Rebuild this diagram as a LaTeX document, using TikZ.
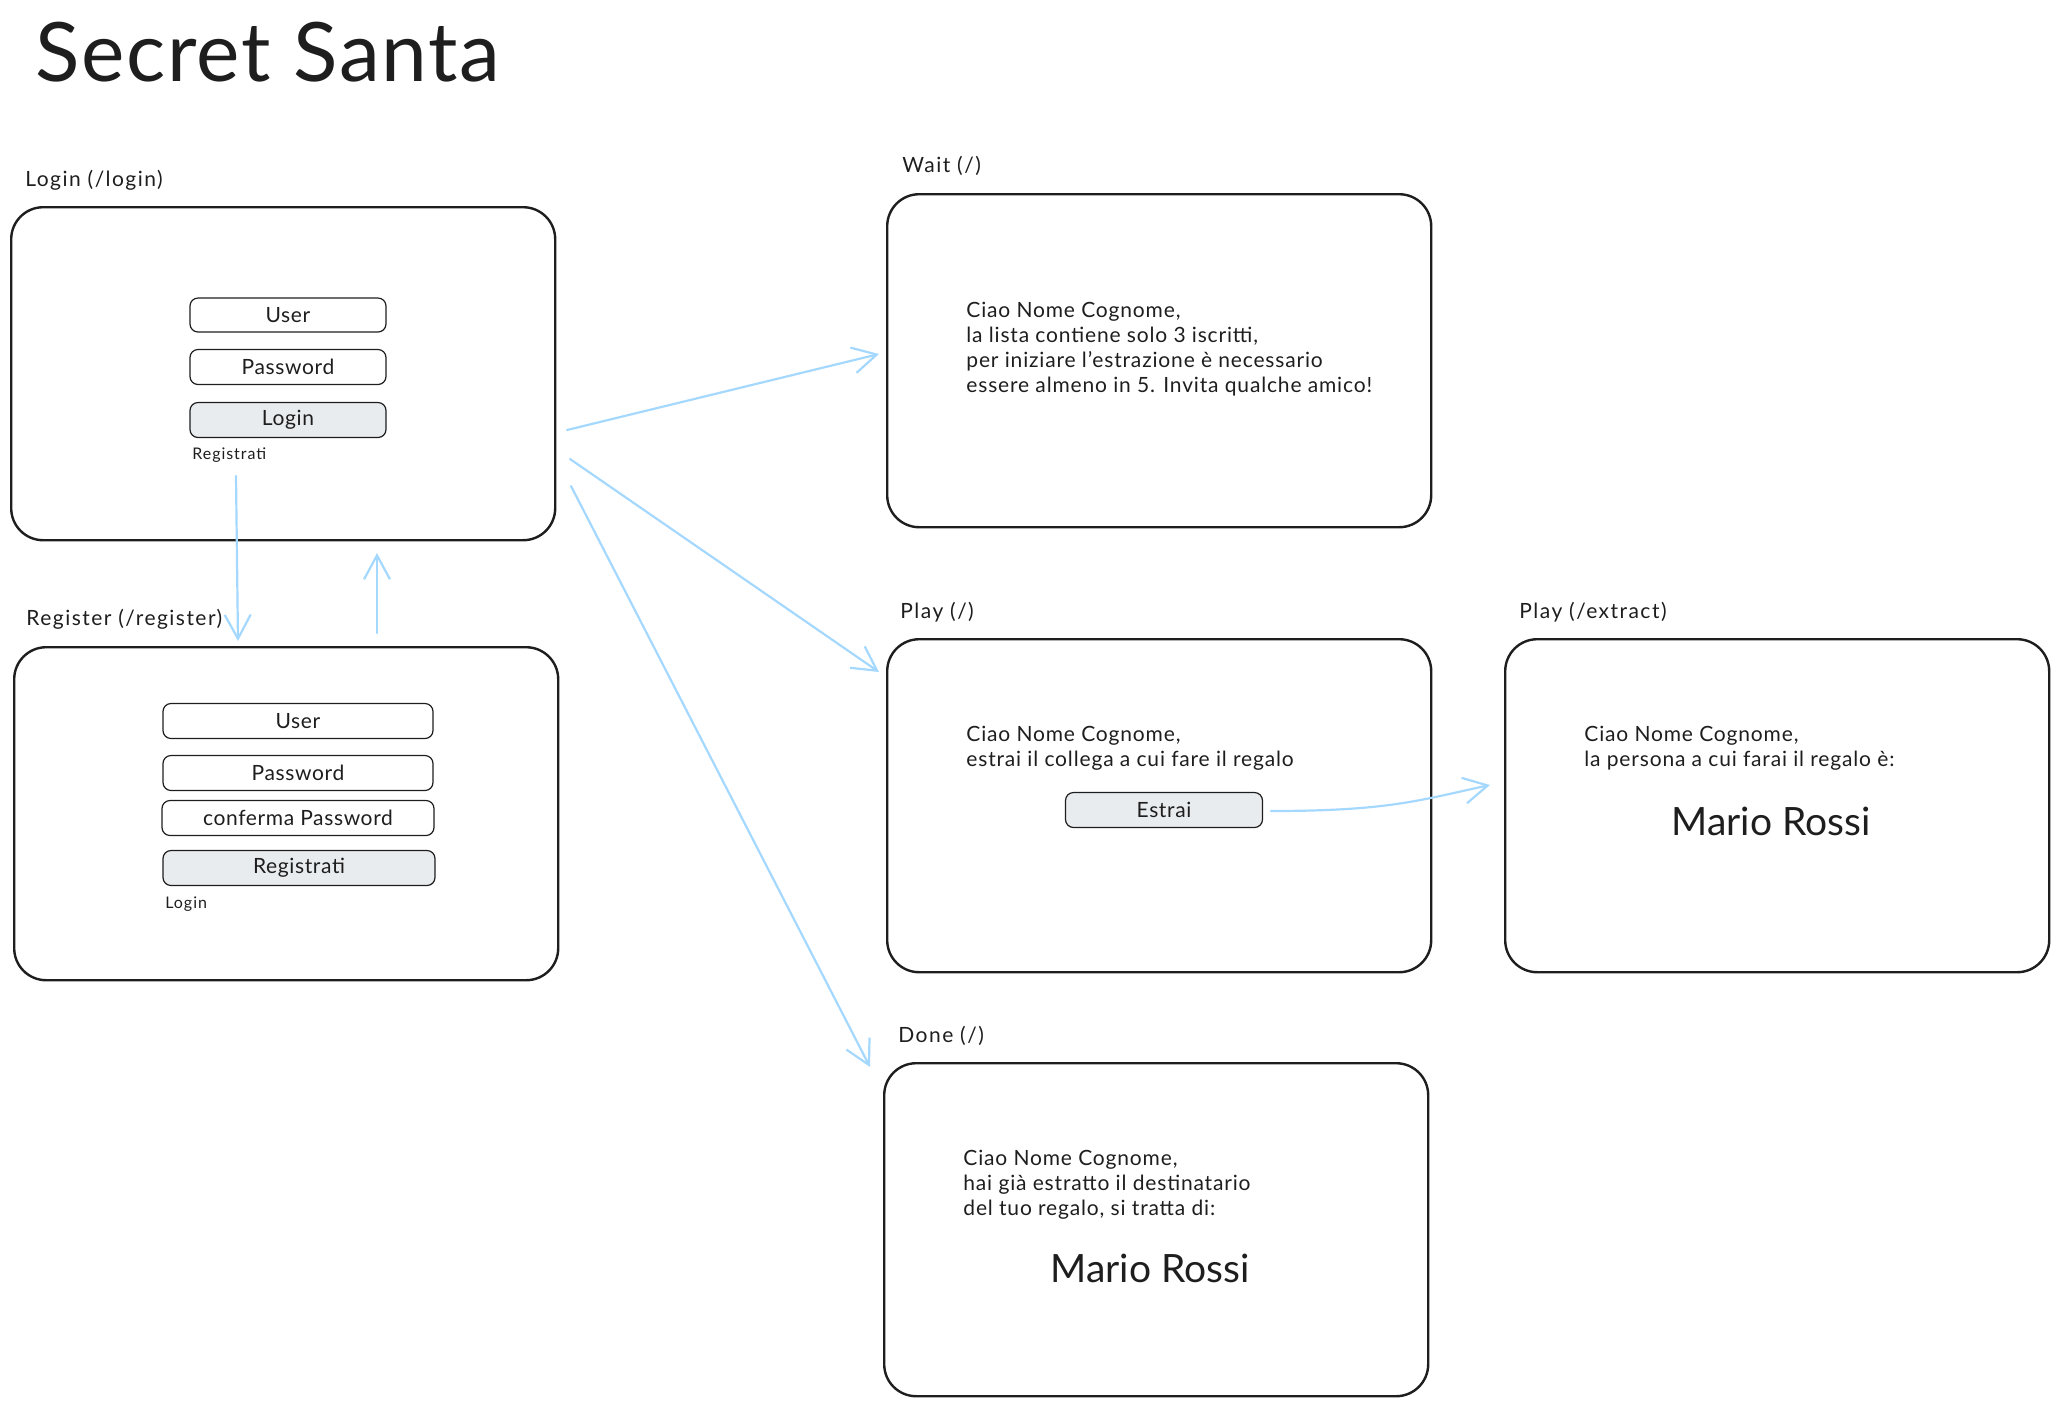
\documentclass[tikz,border=0pt]{standalone}
\usepackage{fontspec}
\setmainfont{Lato}
\usetikzlibrary{arrows.meta}
\definecolor{ink}{HTML}{1E1E1E}
\definecolor{arrowblue}{HTML}{A5D8FF}
\definecolor{btnfill}{HTML}{E9ECEF}
\begin{document}
\begin{tikzpicture}[x=0.5pt,y=-0.5pt,
  frame/.style={draw=ink, line width=1.2pt, rounded corners=16pt, anchor=north west,
    minimum width=272pt, minimum height=166.5pt, inner sep=0pt},
  field/.style={draw=ink, line width=0.6pt, rounded corners=4pt, inner sep=0pt,
    font=\fontsize{10.5}{12}\selectfont\addfontfeature{LetterSpace=3}, text=ink},
  button/.style={field, fill=btnfill},
  lbl/.style={anchor=west, inner sep=0pt, font=\fontsize{10.5}{12}\selectfont\addfontfeature{LetterSpace=7}, text=ink},
  small/.style={anchor=west, inner sep=0pt, font=\fontsize{8}{9}\selectfont\addfontfeature{LetterSpace=6}, text=ink},
  body/.style={anchor=north west, inner sep=0pt, align=left, text=ink,
    font=\fontsize{10.5}{12.5}\selectfont\addfontfeature{LetterSpace=4}},
  big/.style={inner sep=0pt, text=ink, font=\fontsize{19.5}{21}\selectfont},
  flow/.style={draw=arrowblue, line width=1.1pt, line cap=round,
    -{Straight Barb[length=12pt,width=13pt,line width=1.1pt]}},
]
\useasboundingbox (0,0) rectangle (2058,1405);

% title
\node[anchor=west, inner sep=0pt, text=ink, font=\fontsize{41}{44}\selectfont\addfontfeature{LetterSpace=2}] (title) at (35,52) {Secret Santa};

% Login screen
\node[lbl] (loginlbl) at (25,180) {Login (/login)};
\node[frame] (login) at (10,206) {};
\node[field, minimum width=98pt, minimum height=17pt] (luser) at (288,315) {User};
\node[field, minimum width=98pt, minimum height=17.5pt] (lpass) at (288,367) {Password};
\node[button, minimum width=98pt, minimum height=17.5pt] (lbtn) at (288,420) {Login};
\node[small] (lreg) at (192,455) {Registrati};

% Register screen
\node[lbl] (reglbl) at (26,619) {Register (/register)};
\node[frame] (register) at (13,646) {};
\node[field, minimum width=135pt, minimum height=17.5pt] (ruser) at (298,721) {User};
\node[field, minimum width=135pt, minimum height=17.5pt] (rpass) at (298,773) {Password};
\node[field, minimum width=136pt, minimum height=17.5pt] (rconf) at (298,818) {conferma Password};
\node[button, minimum width=136pt, minimum height=17.5pt] (rbtn) at (299,868) {Registrati};
\node[small] (rlogin) at (165,904) {Login};

% Wait screen
\node[lbl] (waitlbl) at (902,166) {Wait (/)};
\node[frame] (wait) at (886,193) {};
\node[body] (waittxt) at (966,302) {Ciao Nome Cognome,\\la lista contiene solo 3 iscritti,\\per iniziare l'estrazione è necessario\\essere almeno in 5. Invita qualche amico!};

% Play screen
\node[lbl] (playlbl) at (900,612) {Play (/)};
\node[frame] (play) at (886,638) {};
\node[body] (playtxt) at (966,726) {Ciao Nome Cognome,\\estrai il collega a cui fare il regalo};
\node[button, minimum width=98.5pt, minimum height=17.5pt] (estrai) at (1164,810) {Estrai};

% Play extract screen
\node[lbl] (extlbl) at (1519,612) {Play (/extract)};
\node[frame] (extract) at (1504,638) {};
\node[body] (exttxt) at (1584,726) {Ciao Nome Cognome,\\la persona a cui farai il regalo è:};
\node[big] (extname) at (1771,821) {Mario Rossi};

% Done screen
\node[lbl] (donelbl) at (898,1036) {Done (/)};
\node[frame] (done) at (883,1062) {};
\node[body] (donetxt) at (963,1150) {Ciao Nome Cognome,\\hai già estratto il destinatario\\del tuo regalo, si tratta di:};
\node[big] (donename) at (1150,1268) {Mario Rossi};

% connector end points
\coordinate (regfrom) at (236,476);
\coordinate (regto) at (238,641);
\coordinate (backfrom) at (377,633);
\coordinate (backto) at (377,553);
\coordinate (wfrom) at (567,430);
\coordinate (wto) at (879,354);
\coordinate (pfrom) at (570,459);
\coordinate (pto) at (879,672);
\coordinate (dfrom) at (571,486);
\coordinate (dto) at (870,1067);
\coordinate (efrom) at (1271,811);
\coordinate (eto) at (1490,785);

\draw[flow] (regfrom) -- (regto);
\draw[flow] (backfrom) -- (backto);
\draw[flow] (wfrom) -- (wto);
\draw[flow] (pfrom) -- (pto);
\draw[flow] (dfrom) -- (dto);
\draw[flow] (efrom) .. controls (1390,811) and (1420,800) .. (eto);
\end{tikzpicture}
\end{document}
